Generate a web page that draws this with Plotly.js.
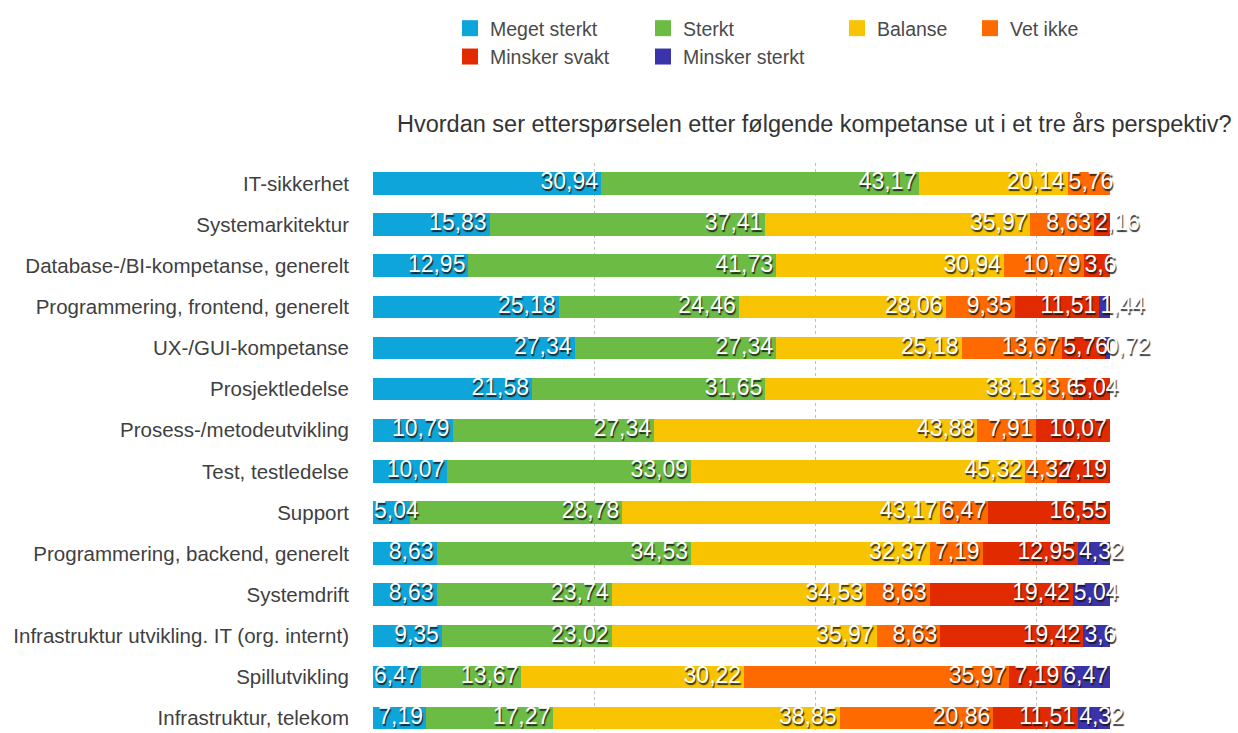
<!DOCTYPE html>
<html>
<head>
<meta charset="utf-8">
<script src="https://cdn.plot.ly/plotly-3.0.1.min.js"></script>
<style>
html, body { margin: 0; padding: 0; background: #ffffff; }
#chart { width: 1238px; height: 733px; }
</style>
</head>
<body>
<div id="chart"></div>
<script>
const categories = [
  "IT-sikkerhet",
  "Systemarkitektur",
  "Database-/BI-kompetanse, generelt",
  "Programmering, frontend, generelt",
  "UX-/GUI-kompetanse",
  "Prosjektledelse",
  "Prosess-/metodeutvikling",
  "Test, testledelse",
  "Support",
  "Programmering, backend, generelt",
  "Systemdrift",
  "Infrastruktur utvikling. IT (org. internt)",
  "Spillutvikling",
  "Infrastruktur, telekom"
];
const megetSterkt   = [30.94, 15.83, 12.95, 25.18, 27.34, 21.58, 10.79, 10.07, 5.04, 8.63, 8.63, 9.35, 6.47, 7.19];
const sterkt        = [43.17, 37.41, 41.73, 24.46, 27.34, 31.65, 27.34, 33.09, 28.78, 34.53, 23.74, 23.02, 13.67, 17.27];
const balanse       = [20.14, 35.97, 30.94, 28.06, 25.18, 38.13, 43.88, 45.32, 43.17, 32.37, 34.53, 35.97, 30.22, 38.85];
const vetIkke       = [5.76, 8.63, 10.79, 9.35, 13.67, 3.6, 7.91, 4.32, 6.47, 7.19, 8.63, 8.63, 35.97, 20.86];
const minskerSvakt  = [0, 2.16, 3.6, 11.51, 5.76, 5.04, 10.07, 7.19, 16.55, 12.95, 19.42, 19.42, 7.19, 11.51];
const minskerSterkt = [0, 0, 0, 1.44, 0.72, 0, 0, 0, 0, 4.32, 5.04, 3.6, 6.47, 4.32];

const seriesNames  = ["Meget sterkt", "Sterkt", "Balanse", "Vet ikke", "Minsker svakt", "Minsker sterkt"];
const seriesValues = [megetSterkt, sterkt, balanse, vetIkke, minskerSvakt, minskerSterkt];
const seriesColors = ["#0ea5da", "#6cbb45", "#f8c300", "#ff6a00", "#e22a00", "#3b33a9"];
const seriesLegend = ["legend", "legend2", "legend3", "legend4", "legend", "legend2"];

const W = 1238, H = 733;
const M = { l: 373, r: 128, t: 163, b: 0, autoexpand: false };
const plotW = W - M.l - M.r;
const X_MAX = 100;
const LABEL_SIZE = 23;
const FONT = "Liberation Sans, Arial, sans-serif";

const ctx = document.createElement("canvas").getContext("2d");
ctx.font = LABEL_SIZE + "px 'Liberation Sans'";

function fmt(v) { return String(v).replace(".", ","); }

const traces = [];
// stacked bars
seriesNames.forEach((name, i) => {
  traces.push({
    type: "bar",
    orientation: "h",
    name: name,
    x: seriesValues[i],
    y: categories,
    marker: { color: seriesColors[i], line: { width: 0 } },
    showlegend: false,
    legendgroup: name,
    hoverinfo: "name+x+y"
  });
});

// value labels
const unitPerPx = X_MAX / plotW;
const cum = categories.map(() => 0);
seriesNames.forEach((name, i) => {
  const xs = [], ys = [], txt = [], pos = [];
  seriesValues[i].forEach((v, j) => {
    const start = cum[j];
    const end = start + v;
    cum[j] = end;
    if (!v) return;
    const t = fmt(v);
    const tw = ctx.measureText(t).width + 6;
    const segPx = v / unitPerPx;
    if (tw <= segPx) { xs.push(Math.min(end, X_MAX) - 3 * unitPerPx); pos.push("middle left"); }
    else { xs.push(start + 1 * unitPerPx); pos.push("middle right"); }
    ys.push(categories[j]);
    txt.push(t);
  });
  traces.push({
    type: "scatter",
    mode: "text",
    x: xs, y: ys, text: txt,
    textposition: pos,
    textfont: { family: FONT, size: LABEL_SIZE, color: "#ffffff", shadow: "1px 2px 1px rgba(20,20,20,0.85)" },
    cliponaxis: false,
    showlegend: false,
    hoverinfo: "skip"
  });
});

// legend entries (square swatches)
seriesNames.forEach((name, i) => {
  traces.push({
    type: "scatter",
    mode: "markers",
    name: name,
    x: [null], y: [null],
    marker: { symbol: "square", size: 16, color: seriesColors[i] },
    legend: seriesLegend[i],
    legendgroup: name,
    hoverinfo: "skip"
  });
});

const legendFont = { family: FONT, size: 19.5, color: "#4a4a4a" };
function leg(xpx) {
  return {
    xref: "container", yref: "container",
    x: xpx / W, y: 1 - 9 / H, xanchor: "left", yanchor: "top",
    orientation: "v", traceorder: "normal", font: legendFont, bgcolor: "rgba(0,0,0,0)",
    borderwidth: 0, tracegroupgap: 0, itemclick: false, itemdoubleclick: false
  };
}

const layout = {
  width: W, height: H,
  margin: M,
  paper_bgcolor: "#ffffff",
  plot_bgcolor: "#ffffff",
  barmode: "stack",
  bargap: 0.45,
  showlegend: true,
  legend: leg(450),
  legend2: leg(643),
  legend3: leg(837),
  legend4: leg(970),
  title: {
    text: "Hvordan ser etterspørselen etter følgende kompetanse ut i et tre års perspektiv?",
    font: { family: FONT, size: 23.5, color: "#333333" },
    xref: "container", yref: "container",
    x: 397 / W, xanchor: "left",
    y: 1 - 124 / H, yanchor: "middle"
  },
  xaxis: {
    range: [0, X_MAX],
    autorange: false,
    dtick: 30,
    tick0: 0,
    showticklabels: false,
    showgrid: true,
    gridcolor: "#c0c0c0",
    griddash: "dot",
    gridwidth: 1,
    zeroline: false,
    showline: true,
    linecolor: "#cfcfcf",
    linewidth: 1,
    automargin: false,
    fixedrange: true
  },
  yaxis: {
    type: "category",
    range: [13.363, -0.5],
    autorange: false,
    showgrid: false,
    zeroline: false,
    showline: false,
    ticks: "",
    ticklabelstandoff: 23,
    automargin: false,
    tickfont: { family: FONT, size: 20.5, color: "#3f3f3f" },
    fixedrange: true
  }
};

Plotly.newPlot("chart", traces, layout, { displayModeBar: false, staticPlot: true });
</script>
</body>
</html>
